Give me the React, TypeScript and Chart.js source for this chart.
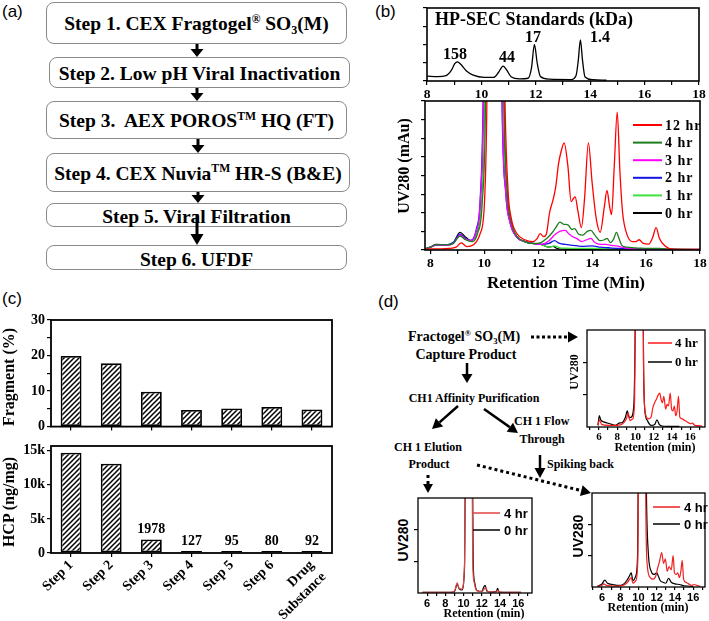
import React, { useEffect, useRef } from 'react';
import { Chart, registerables } from 'chart.js';

Chart.register(...registerables);

const SERIF = '"Liberation Serif", "Times New Roman", Times, serif';
const SANS = '"Liberation Sans", Arial, Helvetica, sans-serif';

type Pt = [number, number];

// ---------------- (b) HP-SEC standards ----------------
const standardsCurve: Pt[] = [[8.0,0.27],[8.4,0.24],[8.7,0.3],[8.9,0.6],[9.02,0.95],[9.12,1.05],[9.25,0.9],[9.45,0.55],[9.7,0.32],[10.1,0.2],[10.45,0.2],[10.62,0.45],[10.8,0.82],[10.95,0.55],[11.1,0.22],[11.4,0.12],[11.72,0.15],[11.84,0.7],[11.95,2.0],[12.05,1.0],[12.17,0.25],[12.5,0.1],[13.3,0.08],[13.48,0.3],[13.56,1.1],[13.64,2.25],[13.72,1.1],[13.81,0.22],[14.1,0.07],[14.6,0.04]];
const standardNames = ['158', '44', '17', '1.4'];
const standardLabelAt: Pt[] = [[9.03,1.42],[10.94,1.26],[11.9,2.36],[14.36,2.36]];

// ---------------- (b) time-course chromatograms ----------------
const timepointLabels = ['12 hr', '4 hr', '3 hr', '2 hr', '1 hr', '0 hr'];
const timepointColors = ['#ff0000', '#1d7d1d', '#ff00ff', '#1414e6', '#3ee23e', '#000000'];
const hr12: Pt[] = [[7.8,0.05],[8.3,0.06],[8.7,0.08],[8.95,0.15],[9.15,0.38],[9.35,0.18],[9.6,0.28],[9.85,0.9],[10.0,2.4],[10.1,8.6],[10.2,30],[10.6,30],[10.76,8.6],[10.88,3.2],[11.0,1.7],[11.2,0.9],[11.5,0.55],[11.8,0.45],[11.95,0.6],[12.07,0.88],[12.2,0.72],[12.3,0.85],[12.42,2.0],[12.55,2.7],[12.65,3.4],[12.75,4.6],[12.85,5.3],[12.96,5.75],[13.1,4.5],[13.22,2.6],[13.3,2.75],[13.37,2.85],[13.47,2.1],[13.6,1.2],[13.72,2.8],[13.86,5.75],[14.0,3.6],[14.15,1.7],[14.3,0.95],[14.45,2.3],[14.55,3.2],[14.64,2.4],[14.72,1.9],[14.82,4.5],[14.93,7.4],[15.03,4.2],[15.13,2.0],[15.3,0.8],[15.5,0.45],[15.62,0.45],[15.74,0.55],[15.9,0.35],[16.1,0.32],[16.25,0.7],[16.37,1.2],[16.5,0.6],[16.7,0.22],[17.0,0.05],[18.0,0.03]];
const hr4: Pt[] = [[7.8,0.05],[8.0,0.15],[8.2,0.27],[8.6,0.27],[8.85,0.35],[9.1,0.75],[9.3,0.55],[9.55,0.45],[9.75,0.9],[9.92,2.5],[10.05,8.6],[10.15,30],[10.62,30],[10.73,8.6],[10.85,3.1],[11.0,1.5],[11.2,0.75],[11.5,0.45],[11.8,0.35],[12.1,0.4],[12.3,0.6],[12.5,0.9],[12.65,1.2],[12.8,1.5],[12.95,1.38],[13.1,1.35],[13.25,1.1],[13.35,1.15],[13.5,0.85],[13.65,0.8],[13.82,1.0],[13.95,1.05],[14.1,0.8],[14.3,0.5],[14.45,0.55],[14.55,0.62],[14.68,0.4],[14.8,0.6],[14.9,0.95],[15.0,0.6],[15.1,0.25],[15.3,0.15],[15.8,0.1],[16.5,0.08],[17.0,0.04],[18.0,0.03]];
const hr3: Pt[] = [[7.8,0.05],[8.0,0.15],[8.2,0.25],[8.6,0.25],[8.85,0.35],[9.1,0.8],[9.3,0.58],[9.5,0.5],[9.7,1.0],[9.85,2.6],[9.97,8.6],[10.08,30],[10.55,30],[10.66,8.6],[10.8,3.0],[10.95,1.5],[11.2,0.7],[11.5,0.45],[11.8,0.35],[12.1,0.3],[12.4,0.5],[12.6,0.8],[12.8,1.0],[13.0,1.05],[13.15,0.85],[13.3,0.7],[13.45,0.6],[13.6,0.45],[13.8,0.55],[13.95,0.62],[14.1,0.4],[14.3,0.3],[14.5,0.3],[14.7,0.25],[14.9,0.22],[15.2,0.12],[15.6,0.06],[16.5,0.05],[18.0,0.03]];
const hr2: Pt[] = [[7.8,0.05],[8.0,0.15],[8.2,0.26],[8.6,0.26],[8.85,0.4],[9.1,0.85],[9.3,0.62],[9.5,0.52],[9.7,1.1],[9.85,2.8],[9.96,8.6],[10.07,30],[10.54,30],[10.65,8.6],[10.8,3.0],[10.95,1.5],[11.2,0.7],[11.5,0.45],[11.8,0.35],[12.1,0.3],[12.4,0.35],[12.6,0.5],[12.8,0.35],[13.0,0.3],[13.3,0.25],[13.6,0.2],[14.0,0.22],[14.3,0.15],[14.6,0.12],[15.0,0.08],[16.0,0.04],[18.0,0.02]];
const hr1: Pt[] = [[7.8,0.05],[8.0,0.15],[8.2,0.26],[8.6,0.26],[8.85,0.4],[9.1,0.8],[9.3,0.6],[9.5,0.5],[9.72,1.0],[9.88,2.6],[10.0,8.6],[10.1,30],[10.58,30],[10.69,8.6],[10.83,3.0],[10.97,1.5],[11.2,0.75],[11.5,0.45],[11.8,0.35],[12.1,0.3],[12.4,0.15],[12.6,0.22],[12.8,0.12],[13.0,0.1],[14.0,0.08],[15.0,0.05],[16.5,0.05],[18.0,0.02]];
const hr0: Pt[] = [[7.8,0.05],[8.0,0.15],[8.2,0.3],[8.6,0.28],[8.85,0.4],[9.1,0.95],[9.3,0.7],[9.5,0.5],[9.7,0.9],[9.87,2.5],[10.0,8.6],[10.1,30],[10.6,30],[10.71,8.6],[10.85,3.0],[11.0,1.4],[11.2,0.7],[11.5,0.45],[11.8,0.35],[12.1,0.3],[12.4,0.15],[12.55,0.2],[12.7,0.08],[13.0,0.04],[14.0,0.03],[18.0,0.02]];
const timepointCurves: Pt[][] = [hr12, hr4, hr3, hr2, hr1, hr0];

// ---------------- (c) process steps ----------------
const stepLabels: (string | string[])[] = ['Step 1', 'Step 2', 'Step 3', 'Step 4', 'Step 5', 'Step 6', ['Drug', 'Substance']];
const fragmentPct = [19.9, 17.8, 9.8, 4.7, 5.1, 5.5, 4.8];
const hcpNgPerMg = [14700, 13100, 1978, 127, 95, 80, 92];
const fragmentTicks = [0, 5, 10, 15, 20, 25, 30];
const fragmentTickLabels = [0, 10, 20, 30];
const hcpTicks = [0, 5000, 10000, 15000];

// ---------------- (d) spiking chromatograms ----------------
const spikeLabels = ['4 hr', '0 hr'];
const captureHr4: Pt[] = [[5.9,0.05],[6.05,0.22],[6.3,0.08],[7.0,0.05],[8.0,0.05],[8.6,0.1],[9.0,0.25],[9.2,0.42],[9.4,0.2],[9.7,0.25],[9.9,0.8],[10.05,6],[10.75,6],[10.9,1.5],[11.1,0.4],[11.4,0.25],[11.7,0.3],[11.9,0.6],[12.1,0.75],[12.35,0.9],[12.5,1.0],[12.65,1.05],[12.8,0.85],[12.95,0.75],[13.1,0.95],[13.3,0.55],[13.45,0.7],[13.6,0.65],[13.8,1.05],[13.95,0.55],[14.1,0.5],[14.25,0.65],[14.4,0.35],[14.55,0.5],[14.7,0.95],[14.85,0.3],[15.1,0.25],[15.4,0.2],[15.7,0.15],[16.0,0.1],[16.2,0.12],[16.5,0.05],[17.3,0.03]];
const captureHr0: Pt[] = [[5.9,0.05],[6.05,0.35],[6.2,0.22],[6.6,0.15],[7.2,0.1],[7.8,0.05],[8.2,0.12],[8.6,0.15],[8.9,0.3],[9.1,0.5],[9.3,0.3],[9.5,0.3],[9.8,0.6],[9.95,2.5],[10.05,6],[10.78,6],[10.88,2],[11.0,0.6],[11.3,0.2],[11.7,0.05],[12.1,0.08],[12.35,0.22],[12.6,0.08],[12.9,0.03],[13.5,0.02],[14.8,0.02]];
const elutionHr4: Pt[] = [[5.5,0.02],[8.5,0.02],[9.0,0.06],[9.3,0.32],[9.5,0.15],[9.8,0.12],[10.1,0.9],[10.25,6],[10.88,6],[11.0,1.0],[11.15,0.35],[11.4,0.08],[12.0,0.04],[12.25,0.12],[12.45,0.18],[12.6,0.06],[13.0,0.03],[13.65,0.04],[13.75,0.08],[13.9,0.02],[16.3,0.02]];
const elutionHr0: Pt[] = [[5.5,0.02],[8.5,0.02],[9.0,0.05],[9.3,0.28],[9.5,0.14],[9.8,0.1],[10.1,0.8],[10.25,6],[10.92,6],[11.05,1.0],[11.2,0.35],[11.45,0.08],[12.0,0.05],[12.2,0.18],[12.35,0.24],[12.55,0.06],[13.0,0.03],[13.6,0.05],[13.72,0.15],[13.9,0.03],[16.3,0.02]];
const spikedHr4: Pt[] = [[5.5,0.02],[6.0,0.05],[6.2,0.1],[6.5,0.05],[7.5,0.03],[8.3,0.05],[8.8,0.15],[9.2,0.3],[9.4,0.12],[9.7,0.2],[9.92,0.8],[10.05,6],[10.68,6],[10.85,1.5],[11.0,0.6],[11.3,0.3],[11.6,0.25],[11.9,0.35],[12.1,0.6],[12.3,0.8],[12.55,1.1],[12.75,0.75],[12.95,0.9],[13.15,0.5],[13.35,0.65],[13.6,0.55],[13.8,1.0],[13.95,0.45],[14.15,0.4],[14.3,0.45],[14.5,0.3],[14.65,0.5],[14.8,0.85],[14.95,0.25],[15.2,0.15],[15.5,0.1],[15.8,0.05],[16.1,0.08],[16.4,0.05],[16.8,0.02]];
const spikedHr0: Pt[] = [[5.5,0.02],[6.0,0.1],[6.3,0.22],[6.6,0.12],[7.2,0.08],[7.8,0.05],[8.3,0.08],[8.7,0.2],[9.0,0.35],[9.2,0.45],[9.4,0.2],[9.7,0.35],[9.9,1.0],[10.05,6],[10.75,6],[10.9,2.5],[11.1,1.0],[11.4,0.5],[11.7,0.4],[12.0,0.45],[12.15,0.37],[12.4,0.2],[12.7,0.15],[13.0,0.12],[13.3,0.28],[13.6,0.15],[14.0,0.1],[14.5,0.08],[15.0,0.04],[16.0,0.02]];

const retentionTicks = [5, 6, 7, 8, 9, 10, 11, 12, 13, 14, 15, 16, 17];
const retentionLabels = [6, 8, 10, 12, 14, 16];
const mainTicks = [8, 9, 10, 11, 12, 13, 14, 15, 16, 17, 18];
const mainLabels = [8, 10, 12, 14, 16, 18];

// ---------------- plugins ----------------
const framePlugin = {
  id: 'frame',
  afterDraw(chart: any, _a: any, opts: any) {
    const { left, top, right, bottom } = chart.chartArea;
    const ctx = chart.ctx;
    ctx.save();
    ctx.strokeStyle = '#000';
    ctx.lineWidth = (opts && opts.width) || 1.6;
    ctx.strokeRect(left, top, right - left, bottom - top);
    ctx.restore();
  },
};

const insideLegendPlugin = {
  id: 'insideLegend',
  afterDraw(chart: any, _a: any, opts: any) {
    if (!opts || !opts.font) return;
    const { ctx, chartArea } = chart;
    const x0 = chartArea.right - opts.fromRight;
    chart.data.datasets.forEach((ds: any, i: number) => {
      const y = chartArea.top + opts.top + i * opts.dy;
      ctx.save();
      ctx.strokeStyle = ds.borderColor;
      ctx.lineWidth = opts.lineWidth || 2;
      ctx.beginPath();
      ctx.moveTo(x0, y);
      ctx.lineTo(x0 + opts.lineLen, y);
      ctx.stroke();
      ctx.font = opts.font;
      if (opts.letterSpacing) (ctx as any).letterSpacing = opts.letterSpacing;
      ctx.fillStyle = '#000';
      ctx.textBaseline = 'middle';
      ctx.textAlign = 'left';
      ctx.fillText(ds.label, x0 + opts.lineLen + opts.gap, y + 1);
      ctx.restore();
    });
  },
};

const pointLabelsPlugin = {
  id: 'pointLabels',
  afterDatasetsDraw(chart: any, _a: any, opts: any) {
    if (!opts || !opts.texts) return;
    const { ctx } = chart;
    const xs = chart.scales.x, ys = chart.scales.y;
    ctx.save();
    ctx.font = opts.font;
    ctx.fillStyle = '#000';
    ctx.textAlign = 'center';
    ctx.textBaseline = 'middle';
    opts.texts.forEach((t: string, i: number) => {
      const p = opts.at[i];
      ctx.fillText(t, xs.getPixelForValue(p[0]), ys.getPixelForValue(p[1]));
    });
    ctx.restore();
  },
};

const barLabelsPlugin = {
  id: 'barLabels',
  afterDatasetsDraw(chart: any, _a: any, opts: any) {
    if (!opts || !opts.font) return;
    const { ctx } = chart;
    const meta = chart.getDatasetMeta(0);
    const values = chart.data.datasets[0].data;
    ctx.save();
    ctx.font = opts.font;
    ctx.fillStyle = '#000';
    ctx.textAlign = 'center';
    ctx.textBaseline = 'bottom';
    meta.data.forEach((bar: any, i: number) => {
      const v = values[i];
      if (v < opts.below) ctx.fillText(String(v), bar.x, bar.y - opts.offset);
    });
    ctx.restore();
  },
};

// ---------------- helpers ----------------
const toXY = (pts: Pt[]) => pts.map(([x, y]) => ({ x, y }));

function linScale(axis: 'x' | 'y', min: number, max: number, tickVals: number[], labelVals: number[] | null, size: number, font: any, tickLen = 4, fmt?: (v: number) => string) {
  return {
    type: 'linear',
    min,
    max,
    afterBuildTicks: (s: any) => { s.ticks = tickVals.map((v) => ({ value: v })); },
    afterFit: (s: any) => { if (axis === 'x') s.height = size; else s.width = size; },
    ticks: {
      autoSkip: false,
      maxRotation: 0,
      minRotation: 0,
      padding: axis === 'x' ? 1 : 2,
      color: '#000',
      font,
      callback: (v: any) => {
        const n = Number(v);
        if (!labelVals || !labelVals.some((l) => Math.abs(l - n) < 1e-9)) return '';
        return fmt ? fmt(n) : String(n);
      },
    },
    grid: { drawOnChartArea: false, drawTicks: true, tickLength: tickLen, color: '#000', lineWidth: 1.2 },
    border: { display: false },
  };
}

function lineDatasets(labels: string[], curves: Pt[][], colors: string[], width: number) {
  return curves.map((c, i) => ({
    label: labels[i],
    data: toXY(c),
    borderColor: colors[i],
    borderWidth: width,
    pointRadius: 0,
    fill: false,
    cubicInterpolationMode: 'monotone',
    clip: 0,
  }));
}

function baseOptions(scales: any, plugins: any) {
  return {
    responsive: false,
    animation: false,
    devicePixelRatio: 1,
    events: [],
    scales,
    plugins: { legend: { display: false }, tooltip: { enabled: false }, title: { display: false }, ...plugins },
  };
}

function hatchPattern() {
  const c = document.createElement('canvas');
  c.width = 5;
  c.height = 5;
  const g = c.getContext('2d')!;
  g.fillStyle = '#fff';
  g.fillRect(0, 0, 5, 5);
  g.strokeStyle = '#000';
  g.lineWidth = 1.5;
  g.beginPath();
  g.moveTo(-1, 6); g.lineTo(6, -1);
  g.moveTo(-1, 1); g.lineTo(1, -1);
  g.moveTo(4, 6); g.lineTo(6, 4);
  g.stroke();
  return g.createPattern(c, 'repeat');
}

const bold = (size: number, family = SERIF) => ({ family, size, weight: 'bold' });

// ---------------- chart builders ----------------
const buildStandards = () => ({
  type: 'line',
  data: { datasets: lineDatasets(['HP-SEC standards'], [standardsCurve], ['#000'], 1.3) },
  options: baseOptions(
    {
      x: linScale('x', 8, 18, mainTicks, mainLabels, 20, bold(13.5)),
      y: linScale('y', 0, 4, [0, 1, 2, 3, 4], null, 6, bold(12)),
    },
    { frame: { width: 1.6 }, pointLabels: { texts: standardNames, at: standardLabelAt, font: `bold 16px ${SERIF}` } },
  ),
  plugins: [framePlugin, pointLabelsPlugin],
});

const buildTimecourse = () => ({
  type: 'line',
  data: { datasets: lineDatasets(timepointLabels, timepointCurves, timepointColors, 1.3) },
  options: baseOptions(
    {
      x: linScale('x', 7.8, 18, mainTicks, mainLabels, 20, bold(13.5)),
      y: linScale('y', 0, 8, [0, 1, 2, 3, 4, 5, 6, 7, 8], null, 6, bold(12)),
    },
    { frame: { width: 1.6 }, insideLegend: { fromRight: 67, top: 24, dy: 17.6, lineLen: 29, gap: 3, lineWidth: 2, font: `bold 14px ${SERIF}`, letterSpacing: '1px' } },
  ),
  plugins: [framePlugin, insideLegendPlugin],
});

function categoryX(height: number, showLabels: boolean) {
  return {
    type: 'category',
    afterFit: (s: any) => { s.height = height; },
    ticks: {
      autoSkip: false,
      maxRotation: 45,
      minRotation: showLabels ? 45 : 0,
      padding: 0,
      color: '#000',
      font: bold(14),
      callback: showLabels ? (_v: any, i: number) => stepLabels[i] : () => '',
    },
    grid: { drawOnChartArea: false, drawTicks: true, tickLength: 4, color: '#000', lineWidth: 1.2, offset: false },
    border: { display: false },
  };
}

const buildFragment = () => ({
  type: 'bar',
  data: {
    labels: stepLabels,
    datasets: [{ label: 'Fragment (%)', data: fragmentPct, backgroundColor: hatchPattern(), borderColor: '#000', borderWidth: 1.8, borderSkipped: false, barPercentage: 0.52, categoryPercentage: 1 }],
  },
  options: baseOptions(
    { x: categoryX(6, false), y: linScale('y', 0, 30, fragmentTicks, fragmentTickLabels, 45, bold(14), 4) },
    { frame: { width: 1.8 } },
  ),
  plugins: [framePlugin],
});

const buildHcp = () => ({
  type: 'bar',
  data: {
    labels: stepLabels,
    datasets: [{ label: 'HCP (ng/mg)', data: hcpNgPerMg, backgroundColor: hatchPattern(), borderColor: '#000', borderWidth: 1.8, borderSkipped: false, barPercentage: 0.52, categoryPercentage: 1, minBarLength: 2 }],
  },
  options: baseOptions(
    { x: categoryX(66, true), y: linScale('y', 0, 15700, hcpTicks, hcpTicks, 45, bold(14), 4, (v) => (v === 0 ? '0' : `${v / 1000}k`)) },
    { frame: { width: 1.8 }, barLabels: { font: `bold 14px ${SERIF}`, offset: 3, below: 5000 } },
  ),
  plugins: [framePlugin, barLabelsPlugin],
});

function buildSmall(curves: Pt[][], colors: string[], xmin: number, xmax: number, tickFont: any, legend: any) {
  return () => ({
    type: 'line',
    data: { datasets: lineDatasets(spikeLabels, curves, colors, 1.2) },
    options: baseOptions(
      {
        x: linScale('x', xmin, xmax, retentionTicks.filter((t) => t > xmin && t < xmax), retentionLabels, 14, tickFont, 3),
        y: linScale('y', 0, 3, [1, 2], null, 5, tickFont, 4),
      },
      { frame: { width: 1.3 }, insideLegend: legend },
    ),
    plugins: [framePlugin, insideLegendPlugin],
  });
}

const buildCapture = buildSmall([captureHr4, captureHr0], ['#ff1a1a', '#000'], 4.7, 17.6, bold(11),
  { fromRight: 57, top: 13, dy: 19, lineLen: 24, gap: 3, lineWidth: 1.5, font: `bold 13px ${SERIF}` });
const buildElution = buildSmall([elutionHr4, elutionHr0], ['#e04545', '#000'], 5.0, 17.5, bold(11, SANS),
  { fromRight: 59, top: 15, dy: 17, lineLen: 27, gap: 4, lineWidth: 1.5, font: `bold 13px ${SANS}` });
const buildSpiked = buildSmall([spikedHr4, spikedHr0], ['#ee2020', '#000'], 4.9, 17.3, bold(11, SANS),
  { fromRight: 52, top: 14, dy: 17, lineLen: 27, gap: 4, lineWidth: 1.5, font: `bold 13px ${SANS}` });

// ---------------- components ----------------
type Rect = { l: number; t: number; r: number; b: number };

function ChartPanel({ plot, yW, xH, build }: { plot: Rect; yW: number; xH: number; build: () => any }) {
  const ref = useRef<HTMLCanvasElement>(null);
  const padL = 2, padT = 12, padR = 14, padB = 2;
  const width = plot.r - plot.l + padL + yW + padR;
  const height = plot.b - plot.t + padT + xH + padB;
  useEffect(() => {
    const cfg = build();
    cfg.options.layout = { padding: { left: padL, top: padT, right: padR, bottom: padB } };
    const chart = new Chart(ref.current as HTMLCanvasElement, cfg);
    return () => chart.destroy();
  }, []);
  return (
    <canvas
      ref={ref}
      width={width}
      height={height}
      style={{ position: 'absolute', left: plot.l - padL - yW, top: plot.t - padT, width, height }}
    />
  );
}

function Txt({ x, y, size, children, family = SERIF, weight = 'bold', align = 'center', rotate = 0 }: any) {
  const tx = align === 'center' ? '-50%' : align === 'left' ? '0%' : '-100%';
  return (
    <div
      style={{
        position: 'absolute', left: x, top: y,
        transform: `translate(${tx}, -50%) rotate(${rotate}deg)`,
        fontFamily: family, fontSize: size, fontWeight: weight as any,
        lineHeight: 1, whiteSpace: 'nowrap', color: '#000',
      }}
    >
      {children}
    </div>
  );
}

const Sup = ({ children }: any) => <span style={{ fontSize: '0.6em', position: 'relative', top: '-0.65em' }}>{children}</span>;
const Sub = ({ children }: any) => <span style={{ fontSize: '0.62em', position: 'relative', top: '0.3em' }}>{children}</span>;

function Arrow({ x1, y1, x2, y2, w = 3, head = 9, hw = 12, dash }: any) {
  const dx = x2 - x1, dy = y2 - y1;
  const len = Math.hypot(dx, dy);
  const ux = dx / len, uy = dy / len;
  const bx = x2 - ux * head, by = y2 - uy * head;
  const px = -uy, py = ux;
  return (
    <g>
      <line x1={x1} y1={y1} x2={bx} y2={by} stroke="#000" strokeWidth={w} strokeDasharray={dash} />
      <polygon points={`${x2},${y2} ${bx + (px * hw) / 2},${by + (py * hw) / 2} ${bx - (px * hw) / 2},${by - (py * hw) / 2}`} fill="#000" />
    </g>
  );
}

const flowBoxes = [
  { l: 46, t: 2, r: 347, b: 44 },
  { l: 49, t: 57, r: 350, b: 88 },
  { l: 46, t: 101, r: 347, b: 139 },
  { l: 46, t: 153, r: 350, b: 192 },
  { l: 46, t: 203, r: 347, b: 227 },
  { l: 46, t: 245, r: 347, b: 270 },
];
const flowTexts = [
  <>Step 1. CEX Fragtogel<Sup>®</Sup> SO<Sub>3</Sub>(M)</>,
  <>Step 2. Low pH Viral Inactivation</>,
  <>Step 3.&nbsp; AEX POROS<Sup>TM</Sup> HQ (FT)</>,
  <>Step 4. CEX Nuvia<Sup>TM</Sup> HR-S (B&amp;E)</>,
  <>Step 5. Viral Filtration</>,
  <>Step 6. UFDF</>,
];

export default function App() {
  return (
    <div style={{ position: 'absolute', left: 0, top: 0, width: 709, height: 621, overflow: 'hidden', background: '#fff' }}>
      {/* charts */}
      <ChartPanel plot={{ l: 427, t: 8, r: 699, b: 81 }} yW={6} xH={20} build={buildStandards} />
      <ChartPanel plot={{ l: 425, t: 101, r: 700, b: 250 }} yW={6} xH={20} build={buildTimecourse} />
      <ChartPanel plot={{ l: 51, t: 320, r: 332, b: 429 }} yW={45} xH={6} build={buildFragment} />
      <ChartPanel plot={{ l: 51, t: 446, r: 332, b: 553 }} yW={45} xH={66} build={buildHcp} />
      <ChartPanel plot={{ l: 587, t: 330, r: 705, b: 427 }} yW={5} xH={14} build={buildCapture} />
      <ChartPanel plot={{ l: 418, t: 498, r: 532, b: 593 }} yW={5} xH={14} build={buildElution} />
      <ChartPanel plot={{ l: 592, t: 493, r: 705, b: 587 }} yW={5} xH={14} build={buildSpiked} />

      {/* (a) flowchart boxes */}
      {flowBoxes.map((b, i) => (
        <div
          key={i}
          style={{
            position: 'absolute', left: b.l, top: b.t, width: b.r - b.l, height: b.b - b.t,
            boxSizing: 'border-box', border: '1px solid #8a8a8a', borderRadius: 8, background: '#fff',
            display: 'flex', alignItems: 'center', justifyContent: 'center',
            fontFamily: SERIF, fontWeight: 'bold', fontSize: 19.5, lineHeight: 1, whiteSpace: 'nowrap', color: '#000',
          }}
        >
          <span style={{ position: 'relative', top: i >= 4 ? 2 : 1 }}>{flowTexts[i]}</span>
        </div>
      ))}

      {/* panel letters */}
      <Txt x={2} y={11} size={17} family={SANS} weight="normal" align="left">(a)</Txt>
      <Txt x={375} y={11} size={17} family={SANS} weight="normal" align="left">(b)</Txt>
      <Txt x={2} y={298} size={17} family={SANS} weight="normal" align="left">(c)</Txt>
      <Txt x={378} y={301} size={17} family={SANS} weight="normal" align="left">(d)</Txt>

      {/* (b) texts */}
      <Txt x={435} y={19} size={18} align="left">HP-SEC Standards (kDa)</Txt>
      <Txt x={566} y={282} size={17}>Retention Time (Min)</Txt>
      <Txt x={404} y={166} size={16} rotate={-90}>UV280 (mAu)</Txt>

      {/* (c) texts */}
      <Txt x={9} y={377} size={16} rotate={-90}>Fragment (%)</Txt>
      <Txt x={9} y={502} size={16} rotate={-90}>HCP (ng/mg)</Txt>

      {/* (d) texts */}
      <Txt x={408} y={337} size={14} align="left">Fractogel<Sup>®</Sup> SO<Sub>3</Sub>(M)</Txt>
      <Txt x={466} y={355} size={14}>Capture Product</Txt>
      <Txt x={474} y={398} size={12}>CH1 Affinity Purification</Txt>
      <Txt x={514} y={421} size={12} align="left">CH 1 Flow</Txt>
      <Txt x={542} y={439} size={12}>Through</Txt>
      <Txt x={428} y={447} size={12}>CH 1 Elution</Txt>
      <Txt x={429} y={464} size={12}>Product</Txt>
      <Txt x={547} y={464} size={12} align="left">Spiking back</Txt>
      <Txt x={655} y={447} size={12}>Retention (min)</Txt>
      <Txt x={484} y={613} size={12}>Retention (min)</Txt>
      <Txt x={648} y={607} size={12}>Retention (min)</Txt>
      <Txt x={574} y={372} size={12} rotate={-90}>UV280</Txt>
      <Txt x={403} y={540} size={14} family={SANS} rotate={-90}>UV280</Txt>
      <Txt x={578} y={536} size={14} family={SANS} rotate={-90}>UV280</Txt>

      {/* arrows */}
      <svg width={709} height={621} style={{ position: 'absolute', left: 0, top: 0, pointerEvents: 'none' }}>
        <Arrow x1={197} y1={44} x2={197} y2={57} w={3} head={8} hw={13} />
        <Arrow x1={197} y1={88} x2={197} y2={101} w={3} head={8} hw={13} />
        <Arrow x1={198} y1={139} x2={198} y2={153} w={3} head={8} hw={13} />
        <Arrow x1={198} y1={192} x2={198} y2={203} w={3} head={8} hw={13} />
        <Arrow x1={197} y1={214} x2={197} y2={245} w={3} head={11} hw={13} />

        <Arrow x1={531} y1={337} x2={578} y2={337} w={3} head={10} hw={11} dash="3 2.5" />
        <Arrow x1={467} y1={363} x2={467} y2={383} w={2.5} head={9} hw={11} />
        <Arrow x1={458} y1={406} x2={432} y2={429} w={2.5} head={10} hw={11} />
        <Arrow x1={484} y1={409} x2={518} y2={433} w={2.5} head={10} hw={11} />
        <Arrow x1={540} y1={455} x2={540} y2={478} w={2.5} head={10} hw={11} />
        <Arrow x1={477} y1={465} x2={591} y2={493} w={3} head={10} hw={11} dash="3 3" />
        <Arrow x1={428} y1={475} x2={428} y2={493} w={3} head={9} hw={10} dash="3 3" />
      </svg>
    </div>
  );
}
